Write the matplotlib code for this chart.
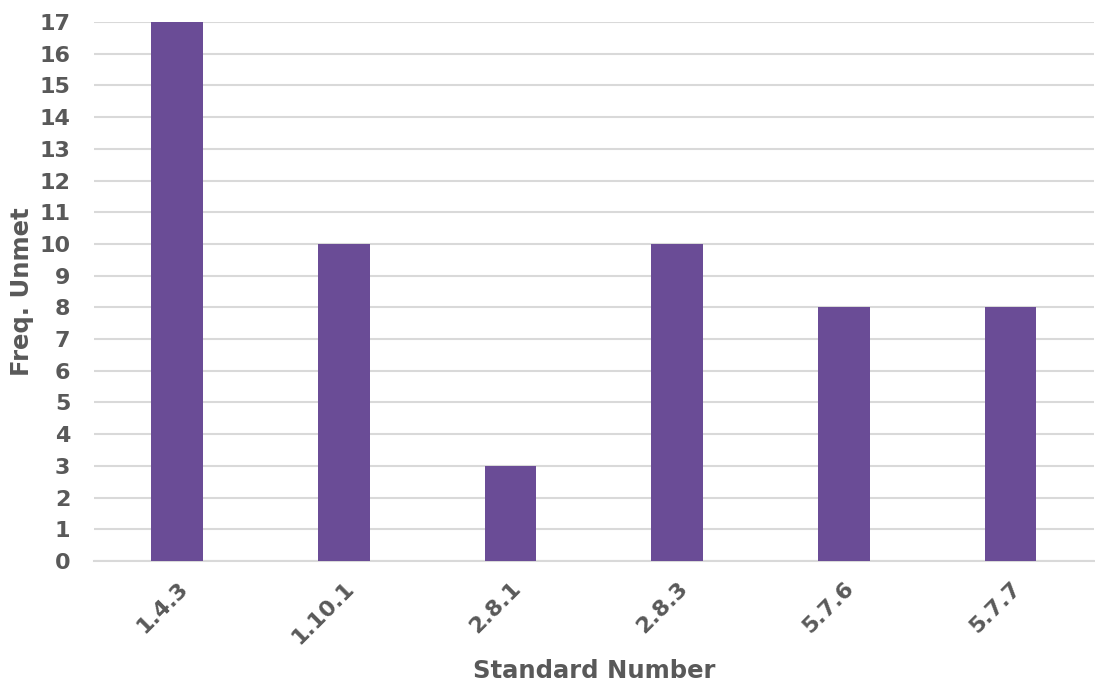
import matplotlib
matplotlib.use("Agg")
import matplotlib.pyplot as plt
import numpy as np

# Unmet frequency per standard
standards = ["1.4.3", "1.10.1", "2.8.1", "2.8.3", "5.7.6", "5.7.7"]
freq_unmet = [17, 10, 3, 10, 8, 8]
y_ticks = list(range(0, 18))

TEXT = "#595959"
BAR = "#6A4C96"
GRID = "#D9D9D9"

plt.rcParams["font.family"] = ["DejaVu Sans"]
plt.rcParams["font.weight"] = "bold"

fig = plt.figure(figsize=(10.95, 6.88), dpi=100)
ax = fig.add_axes([0.0858, 0.1846, 0.9132, 0.7834])

x = np.arange(len(standards))
ax.bar(x, freq_unmet, width=0.31, color=BAR, zorder=3)

ax.set_xlim(-0.5, len(standards) - 0.5)
ax.set_ylim(0, 17)
ax.set_yticks(y_ticks)
ax.set_xticks(x)
ax.set_xticklabels(standards, rotation=45, ha="right", va="top",
                   rotation_mode="anchor")

ax.tick_params(axis="both", length=0, labelsize=16, labelcolor=TEXT)
ax.tick_params(axis="y", pad=17)
ax.tick_params(axis="x", pad=12)
for lbl in ax.get_xticklabels() + ax.get_yticklabels():
    lbl.set_fontweight("bold")

ax.grid(True, axis="y", color=GRID, lw=1.5, zorder=0)
for side in ["top", "right", "left"]:
    ax.spines[side].set_visible(False)
ax.spines["bottom"].set_color(GRID)
ax.spines["bottom"].set_linewidth(1.5)

ax.set_ylabel("Freq. Unmet", fontsize=17.5, fontweight="bold", color=TEXT,
              labelpad=4)
ax.set_xlabel("Standard Number", fontsize=17.5, fontweight="bold", color=TEXT,
              labelpad=8)

fig.savefig("out.png", dpi=100)
